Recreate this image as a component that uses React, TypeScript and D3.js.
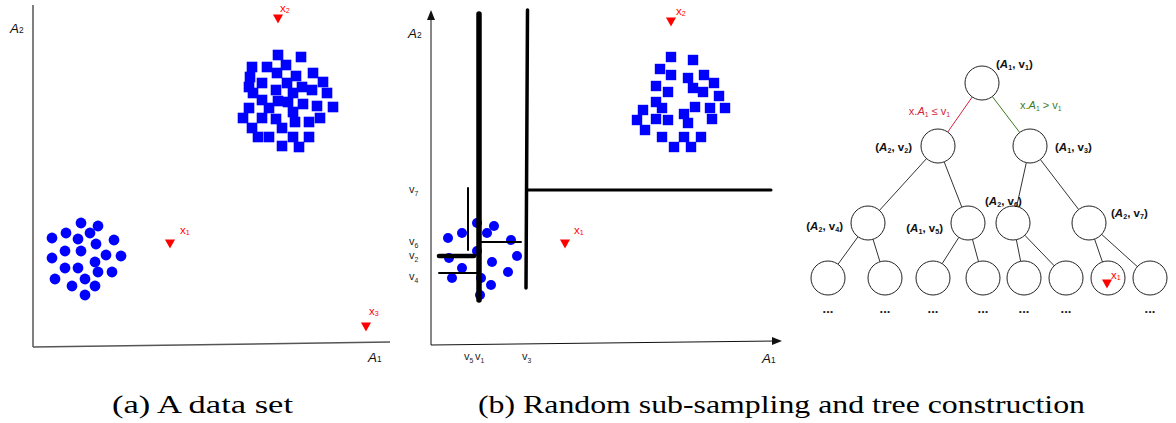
import React from 'react';
import * as d3 from 'd3';

// ---------- Panel (a): data set in (A1, A2) attribute space ----------
const circlesA: [number, number][] = [
  [48, 124], [65, 121], [33, 114], [57, 114], [19, 109], [45, 108], [63, 103], [81, 107],
  [32, 96], [48, 96], [19, 89], [73, 92], [88, 91], [62, 85], [32, 79], [45, 79],
  [65, 75], [79, 75], [22, 68], [52, 68], [39, 61], [62, 61], [52, 52],
];
const squaresA: [number, number][] = [
  [245, 292], [268, 290], [219, 280], [234, 280], [253, 282], [217, 270], [244, 274], [263, 271],
  [280, 274], [229, 264], [254, 264], [269, 260], [290, 265], [216, 260], [243, 257], [260, 254],
  [279, 257], [220, 254], [294, 254], [229, 247], [245, 246], [255, 245], [270, 243], [284, 241],
  [300, 240], [216, 239], [236, 239], [260, 235], [210, 229], [229, 229], [243, 228], [262, 225],
  [276, 225], [287, 229], [219, 219], [249, 219], [225, 210], [236, 210], [260, 210], [276, 210],
  [249, 201], [266, 200],
];
const queryNamesA = ['1', '2', '3'];
const queryA1A = [137, 245, 333];
const queryA2A = [103, 328, 20];

// ---------- Panel (b): sub-sample with axis-parallel splits ----------
const circlesB: [number, number][] = [
  [46, 122], [63, 119], [31, 112], [56, 112], [17, 107], [80, 105], [46, 94], [18, 87],
  [86, 89], [61, 83], [31, 77], [77, 73], [21, 67], [50, 67], [60, 60], [49, 50],
];
const squaresB: [number, number][] = [
  [240, 288], [262, 285], [229, 276], [240, 270], [257, 267], [273, 270], [225, 259], [237, 253],
  [262, 257], [272, 253], [283, 262], [288, 249], [225, 243], [231, 237], [212, 235], [264, 238],
  [279, 237], [294, 237], [206, 225], [225, 226], [237, 225], [253, 231], [257, 222], [281, 226],
  [214, 215], [231, 208], [253, 208], [270, 208], [243, 198], [260, 198],
];
const queryNamesB = ['1', '2'];
const queryA1B = [134, 240];
const queryA2B = [101, 323];

// split thresholds (A1 splits: v1, v3, v5; A2 splits: v2, v4, v6, v7)
const a1SplitNames = ['1', '3', '5'];
const a1SplitValues = [48, 95, 37];
const a1SplitFrom = [45, 57, 95];
const a1SplitTo = [331, 335, 157];
const a2SplitNames = ['7', '6', '2', '4'];
const a2SplitValues = [155, 103, 89, 72];
const a2SplitFrom = [96, 50, 8, 8];
const a2SplitTo = [340, 90, 43, 46];

// ---------- Panel (c): the resulting tree ----------
const nodeIds = ['r', 'L', 'R', 'LL', 'LR', 'RL', 'RR', 'a', 'b', 'c', 'd', 'e', 'f', 'g', 'h'];
const nodeParents = [null, 'r', 'r', 'L', 'L', 'R', 'R', 'LL', 'LL', 'LR', 'LR', 'RL', 'RL', 'RR', 'RR'];
const nodeLevels = [0, 1, 1, 2, 2, 2, 2, 3, 3, 3, 3, 3, 3, 3, 3];
const nodePos = [182, 138, 230, 68, 168, 213, 289, 28, 85, 133, 183, 224, 266, 308, 350];
const nodeAttr = ['1', '2', '1', '2', '1', '2', '2', '', '', '', '', '', '', '', ''];
const nodeSplit = ['1', '2', '3', '4', '5', '6', '7', '', '', '', '', '', '', '', ''];
const leafWithQuery = 'g';
const leavesWithoutMore = ['g'];

const BLUE = '#0000ff';
const RED = '#ff0000';
const SANS = '"Liberation Sans", Arial, sans-serif';
const SERIF = '"Liberation Serif", "DejaVu Serif", serif';

type Seg = { t: string; sub?: boolean; it?: boolean };

function Rich({ segs, size, shift = 2 }: { segs: Seg[]; size: number; shift?: number }) {
  let inSub = false;
  return (
    <>
      {segs.map((s, i) => {
        let dy = 0;
        if (s.sub && !inSub) dy = shift;
        if (!s.sub && inSub) dy = -shift;
        inSub = !!s.sub;
        return (
          <tspan
            key={i}
            dy={dy || undefined}
            fontSize={s.sub ? size * 0.62 : size}
            fontStyle={s.it ? 'italic' : undefined}
          >
            {s.t}
          </tspan>
        );
      })}
    </>
  );
}

function Tri({ cx, cy, s = 10 }: { cx: number; cy: number; s?: number }) {
  const h = s * 0.9;
  return (
    <path
      d={`M${cx - s / 2},${cy - h / 2}L${cx + s / 2},${cy - h / 2}L${cx},${cy + h / 2}Z`}
      fill={RED}
    />
  );
}

function QueryLabel({ x, y, n }: { x: number; y: number; n: string }) {
  return (
    <text x={x} y={y} fill={RED} fontFamily={SANS}>
      <Rich segs={[{ t: 'x' }, { t: n, sub: true }]} size={11.5} shift={0.5} />
    </text>
  );
}

function AxisName({ x, y, n }: { x: number; y: number; n: string }) {
  return (
    <text x={x} y={y} fill="#111" fontFamily={SANS}>
      <Rich segs={[{ t: 'A', it: true }, { t: n, sub: true }]} size={13.5} shift={0} />
    </text>
  );
}

export default function App() {
  // scales for panel (a)
  const xA = d3.scaleLinear().domain([0, 357]).range([33, 390]);
  const yA = d3.scaleLinear().domain([0, 342]).range([347, 5]);
  // scales for panel (b)
  const xB = d3.scaleLinear().domain([0, 350]).range([431, 781]);
  const yB = d3.scaleLinear().domain([0, 335]).range([345, 10]);
  // tree layout scales
  const xT = d3.scaleLinear().domain([0, 350]).range([800, 1150]);
  const yT = d3.scaleOrdinal<number, number>().domain([0, 1, 2, 3]).range([83, 146, 223, 278]);
  const R = 17;

  const nodes = nodeIds.map((id, i) => ({
    id,
    parent: nodeParents[i],
    x: xT(nodePos[i]),
    y: yT(nodeLevels[i]),
    attr: nodeAttr[i],
    split: nodeSplit[i],
  }));
  const byId = new Map(nodes.map((n) => [n.id, n]));

  const edges = nodes
    .filter((n) => n.parent)
    .map((n) => {
      const p = byId.get(n.parent as string)!;
      const dx = n.x - p.x;
      const dy = n.y - p.y;
      const len = Math.hypot(dx, dy);
      const ux = dx / len;
      const uy = dy / len;
      let color = '#333';
      if (p.id === 'r') color = n.id === 'L' ? '#d4213d' : '#3d7a1f';
      return { key: n.id, x1: p.x + ux * R, y1: p.y + uy * R, x2: n.x - ux * R, y2: n.y - uy * R, color };
    });

  // label placement for internal nodes: [dx, dy, anchor]
  const labelPlace: Record<string, [number, number, 'start' | 'end']> = {
    r: [14, -15, 'start'],
    L: [-26, 5, 'end'],
    R: [25, 5, 'start'],
    LL: [-25, 7, 'end'],
    LR: [-25, 9, 'end'],
    RL: [-28, -18, 'start'],
    RR: [22, -6, 'start'],
  };

  const a1Stroke: Record<string, number> = { '1': 5.5, '3': 3.5, '5': 2 };
  const a2Stroke: Record<string, number> = { '7': 3, '6': 2, '2': 4.5, '4': 2 };

  const lowerRoot = yT(0) + R;
  const leafY = yT(3);

  return (
    <svg width={1176} height={423} style={{ position: 'absolute', left: 0, top: 0, background: '#fff' }}>
      <rect width={1176} height={423} fill="#fff" />

      {/* ---------------- panel (a) ---------------- */}
      <line x1={xA(0)} y1={yA(0)} x2={xA(0)} y2={yA(342)} stroke="#555" strokeWidth={1.5} />
      <line x1={xA(0)} y1={yA(0)} x2={xA(357)} y2={yA(5)} stroke="#555" strokeWidth={1.5} />
      <AxisName x={10} y={33} n="2" />
      <AxisName x={368} y={362} n="1" />
      {squaresA.map(([a, b], i) => (
        <rect key={i} x={xA(a) - 5.3} y={yA(b) - 5.3} width={10.6} height={10.6} fill={BLUE} />
      ))}
      {circlesA.map(([a, b], i) => (
        <circle key={i} cx={xA(a)} cy={yA(b)} r={5.4} fill={BLUE} />
      ))}
      {queryNamesA.map((n, i) => {
        const cx = xA(queryA1A[i]);
        const cy = yA(queryA2A[i]);
        const off: [number, number][] = [[10, -10], [2, -7], [3, -12]];
        return (
          <g key={n}>
            <Tri cx={cx} cy={cy} />
            <QueryLabel x={cx + off[i][0]} y={cy + off[i][1]} n={n} />
          </g>
        );
      })}

      {/* ---------------- panel (b) ---------------- */}
      <line x1={xB(0)} y1={yB(0)} x2={xB(0)} y2={yB(330)} stroke="#111" strokeWidth={1} />
      <path d={`M${xB(0)},${yB(335)}L${xB(0) - 4},${yB(325)}L${xB(0) + 4},${yB(325)}Z`} fill="#111" />
      <line x1={xB(0)} y1={yB(0)} x2={xB(345)} y2={yB(4)} stroke="#111" strokeWidth={1} />
      <path
        d={`M${xB(351)},${yB(4)}L${xB(341)},${yB(4) - 4}L${xB(341)},${yB(4) + 4}Z`}
        fill="#111"
      />
      <AxisName x={408} y={38} n="2" />
      <AxisName x={762} y={363} n="1" />

      {squaresB.map(([a, b], i) => (
        <rect key={i} x={xB(a) - 5.2} y={yB(b) - 5.2} width={10.4} height={10.4} fill={BLUE} />
      ))}
      {circlesB.map(([a, b], i) => (
        <circle key={i} cx={xB(a)} cy={yB(b)} r={5} fill={BLUE} />
      ))}

      {a1SplitNames.map((n, i) => (
        <line
          key={'vs' + n}
          x1={xB(a1SplitValues[i])}
          y1={yB(a1SplitFrom[i])}
          x2={xB(a1SplitValues[i]) + (n === '3' ? 1.5 : 0)}
          y2={yB(a1SplitTo[i])}
          stroke="#000"
          strokeWidth={a1Stroke[n]}
          strokeLinecap="round"
        />
      ))}
      {a2SplitNames.map((n, i) => (
        <line
          key={'hs' + n}
          x1={xB(a2SplitFrom[i])}
          y1={yB(a2SplitValues[i])}
          x2={xB(a2SplitTo[i])}
          y2={yB(a2SplitValues[i])}
          stroke="#000"
          strokeWidth={a2Stroke[n]}
          strokeLinecap="round"
        />
      ))}

      {/* split value labels on the axes */}
      {a2SplitNames.map((n, i) => (
        <text key={'yl' + n} x={409} y={yB(a2SplitValues[i]) + (n === '4' ? 7 : 3)} fill="#222" fontFamily={SANS}>
          <Rich segs={[{ t: 'v' }, { t: n, sub: true }]} size={11} shift={3} />
        </text>
      ))}
      {a1SplitNames.map((n, i) => (
        <text
          key={'xl' + n}
          x={xB(a1SplitValues[i]) - 4}
          y={360}
          fill="#222"
          fontFamily={SANS}
        >
          <Rich segs={[{ t: 'v' }, { t: n, sub: true }]} size={11} shift={3} />
        </text>
      ))}

      {queryNamesB.map((n, i) => {
        const cx = xB(queryA1B[i]);
        const cy = yB(queryA2B[i]);
        const off: [number, number][] = [[9, -10], [5, -7]];
        return (
          <g key={'qb' + n}>
            <Tri cx={cx} cy={cy} />
            <QueryLabel x={cx + off[i][0]} y={cy + off[i][1]} n={n} />
          </g>
        );
      })}

      {/* ---------------- tree ---------------- */}
      {edges.map((e) => (
        <line key={e.key} x1={e.x1} y1={e.y1} x2={e.x2} y2={e.y2} stroke={e.color} strokeWidth={1} />
      ))}
      {nodes.map((n) => (
        <circle key={n.id} cx={n.x} cy={n.y} r={R} fill="#fff" stroke="#222" strokeWidth={1} />
      ))}
      {nodes
        .filter((n) => n.attr)
        .map((n) => {
          const [dx, dy, anchor] = labelPlace[n.id];
          return (
            <text
              key={'lab' + n.id}
              x={n.x + dx}
              y={n.y + dy}
              textAnchor={anchor}
              fontFamily={SANS}
              fontWeight="bold"
              fill="#111"
            >
              <Rich
                segs={[
                  { t: '(' },
                  { t: 'A', it: true },
                  { t: n.attr, sub: true },
                  { t: ', v' },
                  { t: n.split, sub: true },
                  { t: ')' },
                ]}
                size={11.5}
                shift={1.5}
              />
            </text>
          );
        })}
      <text x={950} y={lowerRoot + 15} textAnchor="end" fill="#d4213d" fontFamily={SANS}>
        <Rich
          segs={[{ t: 'x.' }, { t: 'A', it: true }, { t: '1', sub: true }, { t: ' ≤ v' }, { t: '1', sub: true }]}
          size={11}
          shift={1.5}
        />
      </text>
      <text x={1020} y={lowerRoot + 9} fill="#3d7a1f" fontFamily={SANS}>
        <Rich
          segs={[{ t: 'x.' }, { t: 'A', it: true }, { t: '1', sub: true }, { t: ' > v' }, { t: '1', sub: true }]}
          size={11}
          shift={1.5}
        />
      </text>
      {nodes
        .filter((n) => nodeLevels[nodeIds.indexOf(n.id)] === 3 && !leavesWithoutMore.includes(n.id))
        .map((n) => (
          <text
            key={'more' + n.id}
            x={n.x}
            y={leafY + 35}
            textAnchor="middle"
            fontFamily={SANS}
            fontSize={13}
            fontWeight="bold"
            fill="#222"
          >
            ...
          </text>
        ))}
      {(() => {
        const leaf = byId.get(leafWithQuery)!;
        return (
          <g>
            <Tri cx={leaf.x - 1} cy={leaf.y + 6} />
            <QueryLabel x={leaf.x + 3} y={leaf.y + 1} n="1" />
          </g>
        );
      })()}

      {/* ---------------- captions ---------------- */}
      <text
        x={112}
        y={413}
        fontFamily={SERIF}
        fontSize={26}
        fill="#000"
        textLength={181}
        lengthAdjust="spacingAndGlyphs"
      >
        (a) A data set
      </text>
      <text
        x={478}
        y={413}
        fontFamily={SERIF}
        fontSize={26}
        fill="#000"
        textLength={607}
        lengthAdjust="spacingAndGlyphs"
      >
        (b) Random sub-sampling and tree construction
      </text>
    </svg>
  );
}
